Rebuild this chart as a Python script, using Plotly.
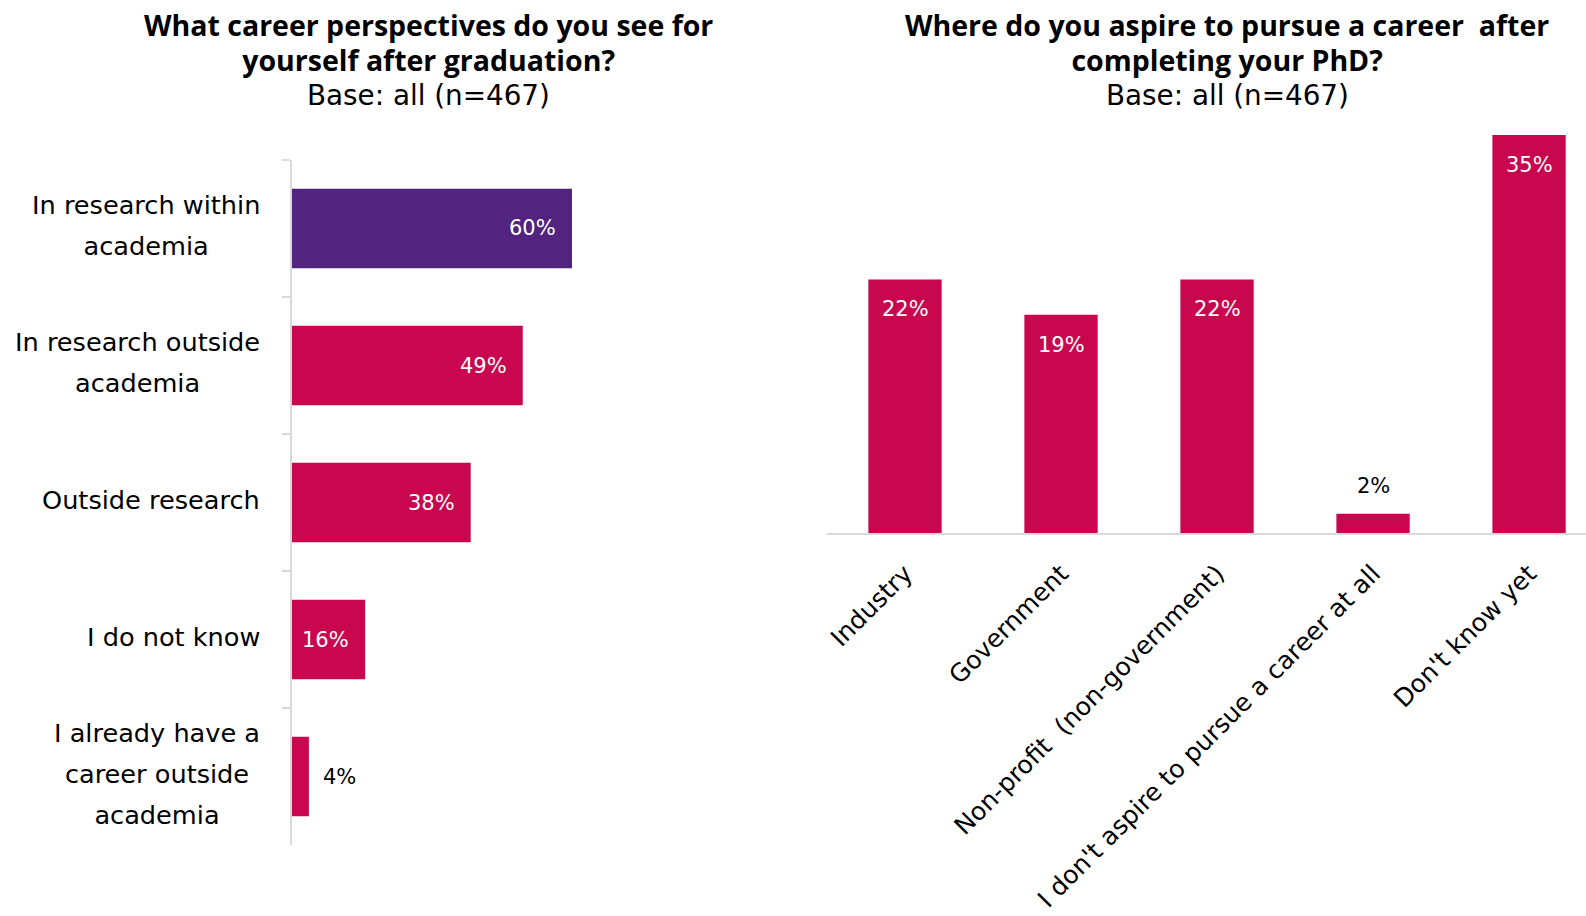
import plotly.graph_objects as go

# ---------------- data ----------------
left_categories = [
    "In research within<br>academia",
    "In research outside<br>academia",
    "Outside research",
    "I do not know",
    "I already have a<br>career outside<br>academia",
]
left_values = [59.7, 49.2, 38.1, 15.6, 3.6]
left_colors = ["#52237F", "#C8074F", "#C8074F", "#C8074F", "#C8074F"]

right_categories = [
    "Industry",
    "Government",
    "Non-profit&nbsp;&nbsp;(non-government)",
    "I don't aspire to pursue a career at all",
    "Don't know yet",
]
right_values = [22.3, 19.2, 22.3, 1.7, 35.0]
right_color = "#C8074F"

left_title = ["What career perspectives do you see for", "yourself after graduation?"]
right_title = ["Where do you aspire to pursue a career&nbsp;&nbsp;after", "completing your PhD?"]
subtitle = "Base: all (n=467)"

W, H = 1586, 916
BODY = "DejaVu Sans"
TITLE = "Open Sans"
AXIS_GREY = "#D9D9D9"


def px_x(p):
    return p / W


def px_y(p):
    return 1 - p / H


fig = go.Figure()

# left horizontal bars
fig.add_trace(go.Bar(
    x=left_values, y=left_categories, orientation="h",
    marker=dict(color=left_colors, line=dict(width=0)),
    xaxis="x", yaxis="y", hoverinfo="skip", width=0.58,
))

# right vertical bars
fig.add_trace(go.Bar(
    x=right_categories, y=right_values,
    marker=dict(color=right_color, line=dict(width=0)),
    xaxis="x2", yaxis="y2", hoverinfo="skip", width=0.47,
))

annotations = []

# left bar value labels
for cat, v in zip(left_categories, left_values):
    txt = f"{round(v)}%"
    if v >= 10:
        annotations.append(dict(x=v, y=cat, xref="x", yref="y", text=txt,
                                showarrow=False, xanchor="right", yanchor="middle",
                                xshift=-14, font=dict(family=BODY, size=21, color="white")))
    else:
        annotations.append(dict(x=v, y=cat, xref="x", yref="y", text=txt,
                                showarrow=False, xanchor="left", yanchor="middle",
                                xshift=12, font=dict(family=BODY, size=21, color="black")))

# left category labels (right-aligned block, centred lines, wide line spacing)
for cat in left_categories:
    lines = cat.split("<br>")
    txt = "<br>".join(f"<span style='font-size:25.6px'>{ln}</span>" for ln in lines)
    annotations.append(dict(x=0, y=cat, xref="x domain", yref="y", text=txt,
                            showarrow=False, xanchor="right", yanchor="middle",
                            align="center", xshift=-30, yshift=3,
                            font=dict(family=BODY, size=31.5, color="black")))

# right bar value labels
for cat, v in zip(right_categories, right_values):
    txt = f"{round(v)}%"
    if v >= 10:
        annotations.append(dict(x=cat, y=v, xref="x2", yref="y2", text=txt,
                                showarrow=False, xanchor="center", yanchor="middle",
                                yshift=-30, font=dict(family=BODY, size=21, color="white")))
    else:
        annotations.append(dict(x=cat, y=v, xref="x2", yref="y2", text=txt,
                                showarrow=False, xanchor="center", yanchor="middle",
                                yshift=28, font=dict(family=BODY, size=21, color="black")))

# titles
for cx, t in [(428, left_title), (1227, right_title)]:
    txt = "<br>".join(f"<span style='font-size:28.5px'><b>{ln}</b></span>" for ln in t)
    annotations.append(dict(x=px_x(cx), y=px_y(42), xref="paper", yref="paper",
                            text=txt, showarrow=False, xanchor="center",
                            yanchor="middle", align="center",
                            font=dict(family=TITLE, size=27, color="black")))
    annotations.append(dict(x=px_x(cx), y=px_y(95), xref="paper", yref="paper",
                            text=subtitle, showarrow=False, xanchor="center",
                            yanchor="middle", align="center",
                            font=dict(family=BODY, size=27.8, color="black")))

fig.update_layout(
    width=W, height=H,
    margin=dict(l=0, r=0, t=0, b=0),
    paper_bgcolor="white", plot_bgcolor="white",
    showlegend=False,
    font=dict(family=BODY, size=22, color="black"),
    annotations=annotations,
    xaxis=dict(domain=[px_x(292), px_x(761)], range=[0, 100], visible=False,
               fixedrange=True),
    yaxis=dict(domain=[px_y(845), px_y(160)], range=[4.5, -0.5], type="category",
               showline=True, linecolor=AXIS_GREY, linewidth=2,
               ticks="outside", tickson="boundaries", ticklen=8,
               tickcolor=AXIS_GREY, tickwidth=2, showticklabels=False,
               showgrid=False, zeroline=False, anchor="x", automargin=False),
    xaxis2=dict(domain=[px_x(827), 1.0], range=[-0.5, 4.365], type="category",
                showline=True, linecolor=AXIS_GREY, linewidth=2,
                ticks="", tickangle=-45, anchor="y2", automargin=False,
                ticklabelstandoff=14,
                tickfont=dict(family=BODY, size=25, color="black"),
                showgrid=False, zeroline=False),
    yaxis2=dict(domain=[px_y(533), px_y(135)], range=[0, 35], visible=False,
                anchor="x2"),
)

fig.write_html("out.html")
